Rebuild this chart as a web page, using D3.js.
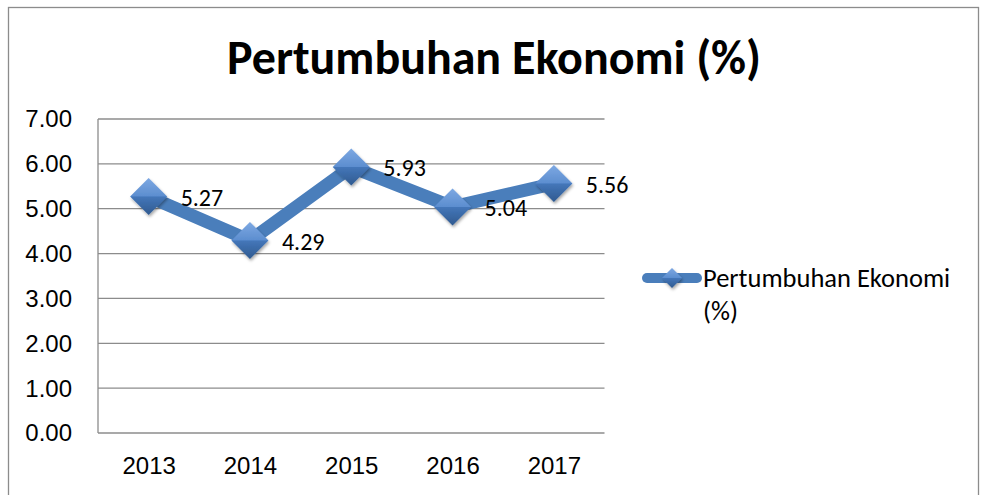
<!DOCTYPE html>
<html>
<head>
<meta charset="utf-8">
<script src="https://cdn.jsdelivr.net/npm/d3@7"></script>
<style>
  html, body { margin: 0; padding: 0; background: #fff; }
  svg { display: block; font-family: Carlito, Calibri, Lato, sans-serif; }
</style>
</head>
<body>
<svg id="chart" width="988" height="495"></svg>
<script>
(function() {
  var years = ['2013', '2014', '2015', '2016', '2017'];
  var growth = [5.27, 4.29, 5.93, 5.04, 5.56];
  var yTicks = [0, 1, 2, 3, 4, 5, 6, 7];
  var title = 'Pertumbuhan Ekonomi (%)';
  var seriesName = ['Pertumbuhan Ekonomi', '(%)'];

  var svg = d3.select('#chart');
  var plot = { left: 98, right: 604.5, top: 119, bottom: 433 };
  var blue = '#4a7ebb';

  var defs = svg.append('defs');
  var grad = defs.append('linearGradient').attr('id', 'dia').attr('x1', 0).attr('y1', 0).attr('x2', 0).attr('y2', 1);
  grad.append('stop').attr('offset', '0%').attr('stop-color', '#6f9fe0');
  grad.append('stop').attr('offset', '50%').attr('stop-color', '#4a81ca');
  grad.append('stop').attr('offset', '100%').attr('stop-color', '#34629c');
  var sh = defs.append('filter').attr('id', 'shadow').attr('x', -0.5).attr('y', -0.5).attr('width', 2).attr('height', 2);
  sh.append('feDropShadow').attr('dx', 1).attr('dy', 2).attr('stdDeviation', 1.5).attr('flood-color', '#000').attr('flood-opacity', 0.35);

  // outer frame
  svg.append('rect').attr('x', 8.5).attr('y', 7.5).attr('width', 970).attr('height', 500)
    .attr('fill', '#fff').attr('stroke', '#8c8c8c').attr('stroke-width', 1.3);

  svg.append('text').attr('x', 494).attr('y', 74).attr('text-anchor', 'middle')
    .attr('font-size', 48).attr('font-weight', 'bold').attr('fill', '#000').text(title);

  var x = d3.scalePoint().domain(years).range([plot.left, plot.right]).padding(0.5);
  var y = d3.scaleLinear().domain([0, 7]).range([plot.bottom, plot.top]);

  // gridlines
  svg.append('g').selectAll('line').data(yTicks).enter().append('line')
    .attr('x1', plot.left).attr('x2', plot.right)
    .attr('y1', function(d) { return y(d); }).attr('y2', function(d) { return y(d); })
    .attr('stroke', '#8c8c8c').attr('stroke-width', 1.3);
  svg.append('line').attr('x1', plot.left).attr('x2', plot.left).attr('y1', plot.top).attr('y2', plot.bottom)
    .attr('stroke', '#8c8c8c').attr('stroke-width', 1.3);

  var yAxis = svg.append('g').attr('transform', 'translate(' + (plot.left - 26) + ',0)')
    .call(d3.axisLeft(y).tickValues(yTicks).tickFormat(d3.format('.2f')).tickSize(0).tickPadding(0));
  yAxis.select('.domain').remove();
  yAxis.selectAll('text').attr('font-size', 24).attr('fill', '#000').attr('font-family', null).attr('dy', '0.33em');

  var xAxis = svg.append('g').attr('transform', 'translate(0,' + plot.bottom + ')')
    .call(d3.axisBottom(x).tickSize(0).tickPadding(24));
  xAxis.select('.domain').remove();
  xAxis.selectAll('text').attr('font-size', 24).attr('fill', '#000').attr('font-family', null);

  var pts = years.map(function(d, i) { return { year: d, value: growth[i] }; });

  svg.append('path').datum(pts)
    .attr('d', d3.line().x(function(d) { return x(d.year); }).y(function(d) { return y(d.value); }))
    .attr('fill', 'none').attr('stroke', blue).attr('stroke-width', 13).attr('stroke-linejoin', 'round');

  function diamond(r) {
    return 'M0,' + (-r) + 'L' + r + ',0L0,' + r + 'L' + (-r) + ',0Z';
  }
  function facets(g, r) {
    g.append('path').attr('d', diamond(r)).attr('fill', 'url(#dia)').attr('filter', 'url(#shadow)');
    g.append('path').attr('d', 'M0,' + (-r) + 'L' + r + ',0L' + (-r) + ',0Z').attr('fill', '#fff').attr('opacity', 0.1);
    g.append('path').attr('d', 'M' + (-r) + ',0L' + r + ',0L0,' + r + 'Z').attr('fill', '#000').attr('opacity', 0.08);
  }

  svg.append('g').selectAll('g').data(pts).enter().append('g')
    .attr('transform', function(d) { return 'translate(' + x(d.year) + ',' + y(d.value) + ')'; })
    .each(function() { facets(d3.select(this), 18.5); });

  svg.append('g').selectAll('text').data(pts).enter().append('text')
    .attr('x', function(d) { return x(d.year) + 32; })
    .attr('y', function(d) { return y(d.value) + 9; })
    .attr('font-size', 24).attr('fill', '#000')
    .text(function(d) { return d3.format('.2f')(d.value); });

  // legend
  var lg = svg.append('g');
  lg.append('line').attr('x1', 647).attr('x2', 697).attr('y1', 278).attr('y2', 278)
    .attr('stroke', blue).attr('stroke-width', 10).attr('stroke-linecap', 'round');
  facets(lg.append('g').attr('transform', 'translate(672,278)'), 10);
  lg.append('g').selectAll('text').data(seriesName).enter().append('text')
    .attr('x', 703).attr('y', function(d, i) { return 287 + i * 33; })
    .attr('font-size', 26.5).attr('fill', '#000').text(function(d) { return d; });
})();
</script>
</body>
</html>
